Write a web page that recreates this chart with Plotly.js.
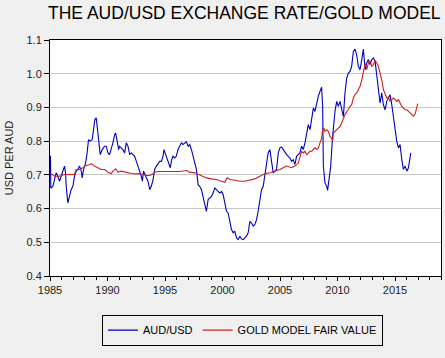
<!DOCTYPE html>
<html>
<head>
<meta charset="utf-8">
<script src="https://cdn.plot.ly/plotly-3.0.1.min.js"></script>
<style>
html,body{margin:0;padding:0;background:#f0f0f0;}
#chart{width:445px;height:358px;}
</style>
</head>
<body>
<div id="chart"></div>
<script>
// AUD/USD (decimal years, USD per AUD)
const audYears = [1985.00,1985.04,1985.07,1985.25,1985.39,1985.54,1985.68,1985.83,1985.97,1986.12,1986.26,1986.35,1986.41,1986.55,1986.70,1986.84,1986.99,1987.13,1987.28,1987.42,1987.57,1987.72,1987.80,1987.92,1988.09,1988.21,1988.35,1988.50,1988.67,1988.79,1988.90,1989.02,1989.14,1989.25,1989.37,1989.54,1989.75,1989.89,1990.04,1990.18,1990.33,1990.47,1990.62,1990.71,1990.82,1990.97,1991.05,1991.20,1991.34,1991.49,1991.63,1991.78,1991.93,1992.07,1992.22,1992.36,1992.51,1992.65,1992.80,1992.94,1993.03,1993.14,1993.32,1993.52,1993.67,1993.81,1993.96,1994.10,1994.25,1994.39,1994.54,1994.68,1994.83,1994.91,1995.06,1995.20,1995.35,1995.46,1995.58,1995.69,1995.84,1995.98,1996.13,1996.27,1996.43,1996.57,1996.72,1996.86,1997.01,1997.15,1997.30,1997.44,1997.59,1997.73,1997.88,1998.02,1998.17,1998.31,1998.46,1998.60,1998.75,1998.89,1999.04,1999.18,1999.33,1999.47,1999.62,1999.76,1999.91,2000.06,2000.20,2000.35,2000.49,2000.64,2000.78,2000.93,2001.07,2001.22,2001.36,2001.51,2001.65,2001.80,2001.94,2002.09,2002.23,2002.38,2002.52,2002.67,2002.81,2002.96,2003.10,2003.25,2003.39,2003.54,2003.68,2003.83,2003.97,2004.12,2004.27,2004.41,2004.56,2004.70,2004.85,2004.99,2005.14,2005.28,2005.43,2005.57,2005.72,2005.86,2006.01,2006.15,2006.30,2006.44,2006.59,2006.73,2006.88,2007.02,2007.17,2007.32,2007.46,2007.61,2007.75,2007.90,2008.04,2008.19,2008.33,2008.48,2008.62,2008.71,2008.77,2008.91,2009.06,2009.14,2009.26,2009.41,2009.55,2009.64,2009.78,2009.93,2010.07,2010.22,2010.36,2010.51,2010.65,2010.80,2010.94,2011.09,2011.23,2011.38,2011.52,2011.67,2011.81,2011.96,2012.11,2012.25,2012.40,2012.54,2012.69,2012.83,2012.98,2013.12,2013.27,2013.41,2013.56,2013.70,2013.85,2013.99,2014.14,2014.28,2014.43,2014.57,2014.72,2014.86,2015.01,2015.15,2015.30,2015.44,2015.59,2015.73,2015.88,2016.03,2016.17,2016.26,2016.37];
const audValues = [0.700,0.757,0.661,0.666,0.686,0.706,0.696,0.681,0.696,0.711,0.726,0.706,0.666,0.617,0.636,0.656,0.666,0.696,0.711,0.716,0.726,0.711,0.691,0.716,0.735,0.760,0.804,0.800,0.804,0.834,0.864,0.869,0.834,0.795,0.760,0.775,0.785,0.785,0.765,0.760,0.775,0.795,0.819,0.824,0.804,0.775,0.785,0.780,0.775,0.765,0.795,0.785,0.760,0.765,0.760,0.755,0.740,0.726,0.706,0.696,0.681,0.711,0.696,0.681,0.656,0.666,0.686,0.716,0.726,0.735,0.740,0.740,0.755,0.775,0.760,0.745,0.735,0.721,0.745,0.755,0.750,0.755,0.775,0.785,0.795,0.790,0.795,0.798,0.785,0.790,0.775,0.755,0.735,0.716,0.671,0.666,0.656,0.636,0.617,0.592,0.627,0.632,0.636,0.646,0.661,0.656,0.651,0.646,0.651,0.641,0.617,0.592,0.587,0.557,0.538,0.528,0.533,0.513,0.508,0.518,0.510,0.508,0.513,0.518,0.528,0.562,0.557,0.548,0.553,0.567,0.592,0.627,0.656,0.666,0.696,0.726,0.765,0.775,0.745,0.706,0.711,0.716,0.765,0.780,0.783,0.775,0.765,0.760,0.755,0.750,0.740,0.745,0.731,0.755,0.760,0.765,0.785,0.775,0.795,0.824,0.849,0.834,0.864,0.898,0.888,0.918,0.933,0.948,0.960,0.903,0.726,0.676,0.666,0.654,0.686,0.726,0.804,0.844,0.888,0.918,0.903,0.918,0.898,0.873,0.943,0.987,1.002,1.007,1.022,1.066,1.073,1.056,1.022,1.012,1.042,1.073,1.012,1.032,1.042,1.027,1.042,1.047,1.037,1.002,0.953,0.913,0.943,0.908,0.893,0.918,0.928,0.938,0.908,0.873,0.834,0.800,0.780,0.790,0.745,0.716,0.726,0.711,0.721,0.745,0.765];

// Gold model fair value
const goldYears = [1985.00,1985.39,1985.83,1986.26,1986.70,1987.13,1987.28,1987.57,1987.86,1988.15,1988.44,1988.58,1988.87,1989.16,1989.45,1989.75,1990.04,1990.33,1990.47,1990.71,1990.91,1991.20,1991.49,1991.78,1992.07,1992.51,1992.80,1993.09,1993.38,1993.67,1993.96,1994.10,1994.39,1994.83,1995.50,1996.27,1996.86,1997.15,1997.59,1997.88,1998.17,1998.60,1999.04,1999.47,1999.91,2000.20,2000.41,2000.64,2001.07,2001.51,2001.94,2002.38,2002.81,2003.25,2003.68,2004.12,2004.41,2004.70,2004.99,2005.28,2005.57,2006.01,2006.30,2006.59,2006.88,2007.02,2007.17,2007.32,2007.46,2007.61,2007.75,2007.90,2008.04,2008.19,2008.33,2008.48,2008.62,2008.71,2008.82,2008.91,2009.06,2009.20,2009.35,2009.49,2009.58,2009.64,2009.78,2009.93,2010.07,2010.22,2010.36,2010.51,2010.65,2010.80,2010.94,2011.09,2011.23,2011.38,2011.52,2011.67,2011.81,2011.96,2012.11,2012.25,2012.40,2012.54,2012.69,2012.83,2012.98,2013.12,2013.27,2013.41,2013.56,2013.70,2013.85,2013.99,2014.14,2014.28,2014.43,2014.57,2014.72,2014.86,2015.01,2015.15,2015.30,2015.44,2015.59,2015.73,2015.88,2016.03,2016.17,2016.32,2016.46,2016.61,2016.75,2016.90,2016.98];
const goldValues = [0.706,0.696,0.696,0.701,0.701,0.701,0.716,0.716,0.721,0.728,0.730,0.733,0.726,0.721,0.716,0.716,0.708,0.704,0.711,0.718,0.708,0.711,0.708,0.706,0.704,0.703,0.704,0.701,0.698,0.698,0.703,0.708,0.710,0.710,0.710,0.710,0.713,0.708,0.706,0.701,0.696,0.691,0.688,0.686,0.681,0.678,0.691,0.686,0.684,0.681,0.681,0.684,0.688,0.696,0.703,0.706,0.709,0.711,0.716,0.721,0.726,0.721,0.726,0.735,0.770,0.765,0.770,0.760,0.765,0.770,0.770,0.775,0.780,0.775,0.780,0.795,0.809,0.834,0.839,0.829,0.834,0.829,0.814,0.809,0.800,0.824,0.829,0.834,0.839,0.844,0.854,0.869,0.879,0.888,0.893,0.903,0.908,0.928,0.938,0.943,0.953,0.963,0.982,1.007,1.030,1.012,1.032,1.038,1.022,1.027,1.040,1.032,1.022,1.002,0.982,0.953,0.938,0.928,0.931,0.918,0.923,0.928,0.923,0.918,0.923,0.913,0.903,0.898,0.893,0.893,0.888,0.883,0.878,0.874,0.881,0.903,0.911];

const xTickVals = [1985,1990,1995,2000,2005,2010,2015];
const xTickText = ['1985','1990','1995','2000','2005','2010','2015'];
const yTickVals = [0.4,0.5,0.6,0.7,0.8,0.9,1.0,1.1];
const yTickText = ['0.4','0.5','0.6','0.7','0.8','0.9','1.0','1.1'];

const fontFam = 'Arial, "Liberation Sans", sans-serif';

const traces = [
  {x: audYears, y: audValues, type: 'scatter', mode: 'lines', name: 'AUD/USD',
   line: {color: '#0000c0', width: 1.1}},
  {x: goldYears, y: goldValues, type: 'scatter', mode: 'lines', name: 'GOLD MODEL FAIR VALUE',
   line: {color: '#cc2020', width: 1.1}}
];

const layout = {
  width: 445, height: 358,
  paper_bgcolor: '#f0f0f0',
  plot_bgcolor: '#ffffff',
  margin: {l: 50, r: 4, t: 40, b: 82, pad: 0},
  font: {family: fontFam, size: 11, color: '#222'},
  title: {text: 'THE AUD/USD EXCHANGE RATE/GOLD MODEL', font: {family: fontFam, size: 17.5, color: '#000'},
          x: 0.497, xref: 'paper', xanchor: 'center', y: 0.963, yanchor: 'middle'},
  showlegend: true,
  legend: {orientation: 'h', x: 0.545, xanchor: 'center', xref: 'container', y: 0.078, yref: 'container', yanchor: 'middle',
           bgcolor: 'rgba(0,0,0,0)', bordercolor: '#000', borderwidth: 1,
           font: {family: fontFam, size: 11, color: '#000'}, itemwidth: 30, tracegroupgap: 0},
  xaxis: {range: [1985, 2019], tickvals: xTickVals, ticktext: xTickText,
          ticks: 'outside', ticklen: 4, tickcolor: '#000', tickwidth: 1,
          minor: {dtick: 1, tick0: 1985, ticks: 'outside', ticklen: 3, tickcolor: '#000', showgrid: false},
          showgrid: false, zeroline: false, showline: true, linecolor: '#000', linewidth: 1, mirror: true,
          tickfont: {size: 11, color: '#222'}},
  yaxis: {range: [0.4, 1.1], tickvals: yTickVals, ticktext: yTickText,
          ticks: 'outside', ticklen: 5, tickcolor: '#000', tickwidth: 1,
          showgrid: true, gridcolor: '#c8c8c8', gridwidth: 1, zeroline: false,
          showline: true, linecolor: '#000', linewidth: 1, mirror: true,
          title: {text: 'USD PER AUD', font: {size: 11, color: '#222'}, standoff: 10},
          tickfont: {size: 11, color: '#222'}},
  annotations: [
    {text: '<b><i>Sources:  Haver Analytics, CIM</i></b>', xref: 'paper', yref: 'container',
     x: 0.49, y: 0.017, xanchor: 'center', yanchor: 'middle', showarrow: false,
     font: {family: fontFam, size: 11, color: '#000'}}
  ]
};

Plotly.newPlot('chart', traces, layout, {displayModeBar: false, staticPlot: true});
</script>
</body>
</html>
